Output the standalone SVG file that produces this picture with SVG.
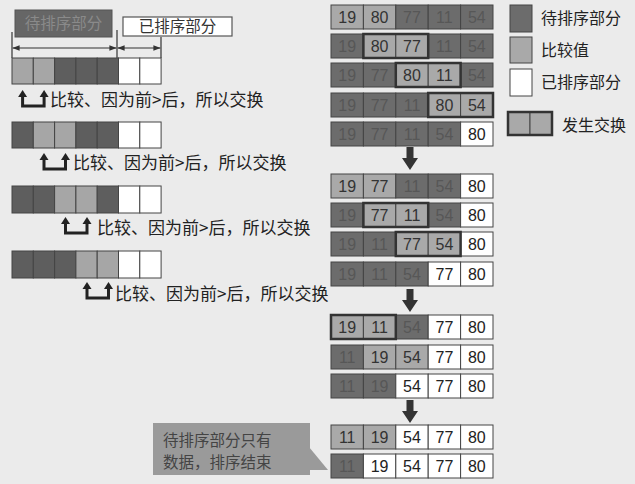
<svg xmlns="http://www.w3.org/2000/svg" xmlns:xlink="http://www.w3.org/1999/xlink" width="635" height="484" viewBox="0 0 635 484">
<style>
.cjk{font-family:"Noto Sans CJK SC","Noto Sans",sans-serif;}
.num{font-family:"Liberation Sans",Arial,sans-serif;font-size:16px;text-anchor:middle;}
.d{fill:#6c6c6c;stroke:#444;stroke-width:1;}
.l{fill:#a9a9a9;stroke:#444;stroke-width:1;}
.w{fill:#ffffff;stroke:#444;stroke-width:1;}
.ld{fill:#5e5e5e;stroke:#444;stroke-width:1;}
.ll{fill:#a6a6a6;stroke:#444;stroke-width:1;}
.td{fill:#575757;}
.tl{fill:#333;}
.tw{fill:#222;}
.sw{fill:none;stroke:#333;stroke-width:2.5;}
.lbl{font-size:17px;fill:#222;}
.leg{font-size:16px;fill:#222;}
.br{stroke:#333;stroke-width:1.2;fill:none;}
</style>
<defs>
<marker id="ah" viewBox="0 0 10 10" refX="10" refY="5" markerWidth="7" markerHeight="7" orient="auto-start-reverse" markerUnits="userSpaceOnUse">
<path d="M0,1 L10,5 L0,9 Z" fill="#333"/>
</marker>
<g id="icon">
<path d="M0,-10 V0 H21.5 V-10" fill="none" stroke="#222" stroke-width="3"/>
<polygon points="-4.5,-9 4.5,-9 0,-16" fill="#222"/>
<polygon points="17,-9 26,-9 21.5,-16" fill="#222"/>
</g>
<path id="down" d="M-3.5,0 H3.5 V11 H8 L0,23 L-8,11 H-3.5 Z" fill="#333"/>
</defs>
<rect width="635" height="484" fill="#ebebeb"/>

<!-- left legend -->
<g id="leftLegend">
<rect x="15" y="10" width="97" height="27" fill="#666" stroke="#555"/>
<text x="63.5" y="29" class="cjk" font-size="15.5" fill="#8a8a8a" text-anchor="middle">待排序部分</text>
<rect x="123" y="17" width="109" height="19" fill="#fff" stroke="#555" stroke-width="1.2"/>
<text x="177.5" y="32" class="cjk" font-size="15.5" fill="#333" text-anchor="middle">已排序部分</text>
<line x1="12" y1="32" x2="12" y2="58" class="br"/>
<line x1="117" y1="30" x2="117" y2="58" class="br"/>
<line x1="161" y1="37" x2="161" y2="58" class="br"/>
</g>
<g id="connectors">
<line x1="12.6" y1="48" x2="116.4" y2="48" class="br" marker-start="url(#ah)" marker-end="url(#ah)"/>
<line x1="117.6" y1="48" x2="160.4" y2="48" class="br" marker-start="url(#ah)" marker-end="url(#ah)"/>
<use xlink:href="#down" x="410" y="147"/>
<use xlink:href="#down" x="410" y="289"/>
<use xlink:href="#down" x="410" y="400"/>
<path d="M309,447 L328,470 L309,470 Z" fill="#9a9a9a"/>
</g>

<!-- left rows -->
<g id="leftRow1" transform="translate(12,58)">
<rect x="0" width="21.3" height="26" class="ll"/><rect x="21.3" width="21.3" height="26" class="ll"/><rect x="42.6" width="21.3" height="26" class="ld"/><rect x="63.9" width="21.3" height="26" class="ld"/><rect x="85.2" width="21.3" height="26" class="ld"/><rect x="106.5" width="21.3" height="26" class="w"/><rect x="127.8" width="21.3" height="26" class="w"/>
</g>
<g id="leftNote1">
<use xlink:href="#icon" x="22.6" y="106"/>
<text x="50" y="106" class="cjk lbl">比较、因为前&gt;后，所以交换</text>
</g>
<g id="leftRow2" transform="translate(12,122)">
<rect x="0" width="21.3" height="26" class="ld"/><rect x="21.3" width="21.3" height="26" class="ll"/><rect x="42.6" width="21.3" height="26" class="ll"/><rect x="63.9" width="21.3" height="26" class="ld"/><rect x="85.2" width="21.3" height="26" class="ld"/><rect x="106.5" width="21.3" height="26" class="w"/><rect x="127.8" width="21.3" height="26" class="w"/>
</g>
<g id="leftNote2">
<use xlink:href="#icon" x="44" y="169"/>
<text x="73" y="169" class="cjk lbl">比较、因为前&gt;后，所以交换</text>
</g>
<g id="leftRow3" transform="translate(12,186)">
<rect x="0" width="21.3" height="27" class="ld"/><rect x="21.3" width="21.3" height="27" class="ld"/><rect x="42.6" width="21.3" height="27" class="ll"/><rect x="63.9" width="21.3" height="27" class="ll"/><rect x="85.2" width="21.3" height="27" class="ld"/><rect x="106.5" width="21.3" height="27" class="w"/><rect x="127.8" width="21.3" height="27" class="w"/>
</g>
<g id="leftNote3">
<use xlink:href="#icon" x="65.5" y="233"/>
<text x="97" y="234" class="cjk lbl">比较、因为前&gt;后，所以交换</text>
</g>
<g id="leftRow4" transform="translate(12,251)">
<rect x="0" width="21.3" height="27" class="ld"/><rect x="21.3" width="21.3" height="27" class="ld"/><rect x="42.6" width="21.3" height="27" class="ld"/><rect x="63.9" width="21.3" height="27" class="ll"/><rect x="85.2" width="21.3" height="27" class="ll"/><rect x="106.5" width="21.3" height="27" class="w"/><rect x="127.8" width="21.3" height="27" class="w"/>
</g>
<g id="leftNote4">
<use xlink:href="#icon" x="87" y="298"/>
<text x="115" y="300" class="cjk lbl">比较、因为前&gt;后，所以交换</text>
</g>

<!-- right grid, pass 1 -->
<g id="p1r1" transform="translate(331,5)">
<rect x="0" width="32.4" height="24" class="l"/><rect x="32.4" width="32.4" height="24" class="l"/><rect x="64.8" width="32.4" height="24" class="d"/><rect x="97.2" width="32.4" height="24" class="d"/><rect x="129.6" width="32.4" height="24" class="d"/>
<text x="16.2" y="18" class="num tl">19</text><text x="48.6" y="18" class="num tl">80</text><text x="81" y="18" class="num td">77</text><text x="113.4" y="18" class="num td">11</text><text x="145.8" y="18" class="num td">54</text>
</g>
<g id="p1r2" transform="translate(331,34)">
<rect x="0" width="32.4" height="24" class="d"/><rect x="32.4" width="32.4" height="24" class="l"/><rect x="64.8" width="32.4" height="24" class="l"/><rect x="97.2" width="32.4" height="24" class="d"/><rect x="129.6" width="32.4" height="24" class="d"/>
<rect x="32.4" width="64.8" height="24" class="sw"/>
<text x="16.2" y="18" class="num td">19</text><text x="48.6" y="18" class="num tl">80</text><text x="81" y="18" class="num tl">77</text><text x="113.4" y="18" class="num td">11</text><text x="145.8" y="18" class="num td">54</text>
</g>
<g id="p1r3" transform="translate(331,63)">
<rect x="0" width="32.4" height="24" class="d"/><rect x="32.4" width="32.4" height="24" class="d"/><rect x="64.8" width="32.4" height="24" class="l"/><rect x="97.2" width="32.4" height="24" class="l"/><rect x="129.6" width="32.4" height="24" class="d"/>
<rect x="64.8" width="64.8" height="24" class="sw"/>
<text x="16.2" y="18" class="num td">19</text><text x="48.6" y="18" class="num td">77</text><text x="81" y="18" class="num tl">80</text><text x="113.4" y="18" class="num tl">11</text><text x="145.8" y="18" class="num td">54</text>
</g>
<g id="p1r4" transform="translate(331,93)">
<rect x="0" width="32.4" height="24" class="d"/><rect x="32.4" width="32.4" height="24" class="d"/><rect x="64.8" width="32.4" height="24" class="d"/><rect x="97.2" width="32.4" height="24" class="l"/><rect x="129.6" width="32.4" height="24" class="l"/>
<rect x="97.2" width="64.8" height="24" class="sw"/>
<text x="16.2" y="18" class="num td">19</text><text x="48.6" y="18" class="num td">77</text><text x="81" y="18" class="num td">11</text><text x="113.4" y="18" class="num tl">80</text><text x="145.8" y="18" class="num tl">54</text>
</g>
<g id="p1r5" transform="translate(331,122)">
<rect x="0" width="32.4" height="24" class="d"/><rect x="32.4" width="32.4" height="24" class="d"/><rect x="64.8" width="32.4" height="24" class="d"/><rect x="97.2" width="32.4" height="24" class="d"/><rect x="129.6" width="32.4" height="24" class="w"/>
<text x="16.2" y="18" class="num td">19</text><text x="48.6" y="18" class="num td">77</text><text x="81" y="18" class="num td">11</text><text x="113.4" y="18" class="num td">54</text><text x="145.8" y="18" class="num tw">80</text>
</g>

<!-- pass 2 -->
<g id="p2r1" transform="translate(331,174)">
<rect x="0" width="32.4" height="24" class="l"/><rect x="32.4" width="32.4" height="24" class="l"/><rect x="64.8" width="32.4" height="24" class="d"/><rect x="97.2" width="32.4" height="24" class="d"/><rect x="129.6" width="32.4" height="24" class="w"/>
<text x="16.2" y="18" class="num tl">19</text><text x="48.6" y="18" class="num tl">77</text><text x="81" y="18" class="num td">11</text><text x="113.4" y="18" class="num td">54</text><text x="145.8" y="18" class="num tw">80</text>
</g>
<g id="p2r2" transform="translate(331,203)">
<rect x="0" width="32.4" height="24" class="d"/><rect x="32.4" width="32.4" height="24" class="l"/><rect x="64.8" width="32.4" height="24" class="l"/><rect x="97.2" width="32.4" height="24" class="d"/><rect x="129.6" width="32.4" height="24" class="w"/>
<rect x="32.4" width="64.8" height="24" class="sw"/>
<text x="16.2" y="18" class="num td">19</text><text x="48.6" y="18" class="num tl">77</text><text x="81" y="18" class="num tl">11</text><text x="113.4" y="18" class="num td">54</text><text x="145.8" y="18" class="num tw">80</text>
</g>
<g id="p2r3" transform="translate(331,232)">
<rect x="0" width="32.4" height="24" class="d"/><rect x="32.4" width="32.4" height="24" class="d"/><rect x="64.8" width="32.4" height="24" class="l"/><rect x="97.2" width="32.4" height="24" class="l"/><rect x="129.6" width="32.4" height="24" class="w"/>
<rect x="64.8" width="64.8" height="24" class="sw"/>
<text x="16.2" y="18" class="num td">19</text><text x="48.6" y="18" class="num td">11</text><text x="81" y="18" class="num tl">77</text><text x="113.4" y="18" class="num tl">54</text><text x="145.8" y="18" class="num tw">80</text>
</g>
<g id="p2r4" transform="translate(331,262)">
<rect x="0" width="32.4" height="24" class="d"/><rect x="32.4" width="32.4" height="24" class="d"/><rect x="64.8" width="32.4" height="24" class="d"/><rect x="97.2" width="32.4" height="24" class="w"/><rect x="129.6" width="32.4" height="24" class="w"/>
<text x="16.2" y="18" class="num td">19</text><text x="48.6" y="18" class="num td">11</text><text x="81" y="18" class="num td">54</text><text x="113.4" y="18" class="num tw">77</text><text x="145.8" y="18" class="num tw">80</text>
</g>

<!-- pass 3 -->
<g id="p3r1" transform="translate(331,315)">
<rect x="0" width="32.4" height="24" class="l"/><rect x="32.4" width="32.4" height="24" class="l"/><rect x="64.8" width="32.4" height="24" class="d"/><rect x="97.2" width="32.4" height="24" class="w"/><rect x="129.6" width="32.4" height="24" class="w"/>
<rect x="0" width="64.8" height="24" class="sw"/>
<text x="16.2" y="18" class="num tl">19</text><text x="48.6" y="18" class="num tl">11</text><text x="81" y="18" class="num td">54</text><text x="113.4" y="18" class="num tw">77</text><text x="145.8" y="18" class="num tw">80</text>
</g>
<g id="p3r2" transform="translate(331,345)">
<rect x="0" width="32.4" height="24" class="d"/><rect x="32.4" width="32.4" height="24" class="l"/><rect x="64.8" width="32.4" height="24" class="l"/><rect x="97.2" width="32.4" height="24" class="w"/><rect x="129.6" width="32.4" height="24" class="w"/>
<text x="16.2" y="18" class="num td">11</text><text x="48.6" y="18" class="num tl">19</text><text x="81" y="18" class="num tl">54</text><text x="113.4" y="18" class="num tw">77</text><text x="145.8" y="18" class="num tw">80</text>
</g>
<g id="p3r3" transform="translate(331,374)">
<rect x="0" width="32.4" height="24" class="d"/><rect x="32.4" width="32.4" height="24" class="d"/><rect x="64.8" width="32.4" height="24" class="w"/><rect x="97.2" width="32.4" height="24" class="w"/><rect x="129.6" width="32.4" height="24" class="w"/>
<text x="16.2" y="18" class="num td">11</text><text x="48.6" y="18" class="num td">19</text><text x="81" y="18" class="num tw">54</text><text x="113.4" y="18" class="num tw">77</text><text x="145.8" y="18" class="num tw">80</text>
</g>

<!-- pass 4 -->
<g id="p4r1" transform="translate(331,425)">
<rect x="0" width="32.4" height="24" class="l"/><rect x="32.4" width="32.4" height="24" class="l"/><rect x="64.8" width="32.4" height="24" class="w"/><rect x="97.2" width="32.4" height="24" class="w"/><rect x="129.6" width="32.4" height="24" class="w"/>
<text x="16.2" y="18" class="num tl">11</text><text x="48.6" y="18" class="num tl">19</text><text x="81" y="18" class="num tw">54</text><text x="113.4" y="18" class="num tw">77</text><text x="145.8" y="18" class="num tw">80</text>
</g>
<g id="p4r2" transform="translate(331,454)">
<rect x="0" width="32.4" height="24" class="d"/><rect x="32.4" width="32.4" height="24" class="w"/><rect x="64.8" width="32.4" height="24" class="w"/><rect x="97.2" width="32.4" height="24" class="w"/><rect x="129.6" width="32.4" height="24" class="w"/>
<text x="16.2" y="18" class="num td">11</text><text x="48.6" y="18" class="num tw">19</text><text x="81" y="18" class="num tw">54</text><text x="113.4" y="18" class="num tw">77</text><text x="145.8" y="18" class="num tw">80</text>
</g>

<!-- right legend -->
<g id="legend">
<rect x="510" y="5" width="22" height="27" class="d"/>
<text x="541" y="24" class="cjk leg">待排序部分</text>
<rect x="510" y="37" width="22" height="26" class="l"/>
<text x="541" y="56" class="cjk leg">比较值</text>
<rect x="510" y="69" width="22" height="27" class="w"/>
<text x="541" y="88" class="cjk leg">已排序部分</text>
<rect x="508" y="112" width="22" height="23" class="l"/>
<rect x="530" y="112" width="22" height="23" class="l"/>
<rect x="508" y="112" width="44" height="23" fill="none" stroke="#333" stroke-width="2.5"/>
<text x="562" y="131" class="cjk leg">发生交换</text>
</g>

<!-- callout -->
<g id="callout">
<rect x="153" y="423" width="157" height="52" fill="#9a9a9a"/>
<text x="163" y="446" class="cjk" font-size="15.5" fill="#444">待排序部分只有</text>
<text x="163" y="468" class="cjk" font-size="15.5" fill="#444">数据，排序结束</text>
</g>
</svg>
